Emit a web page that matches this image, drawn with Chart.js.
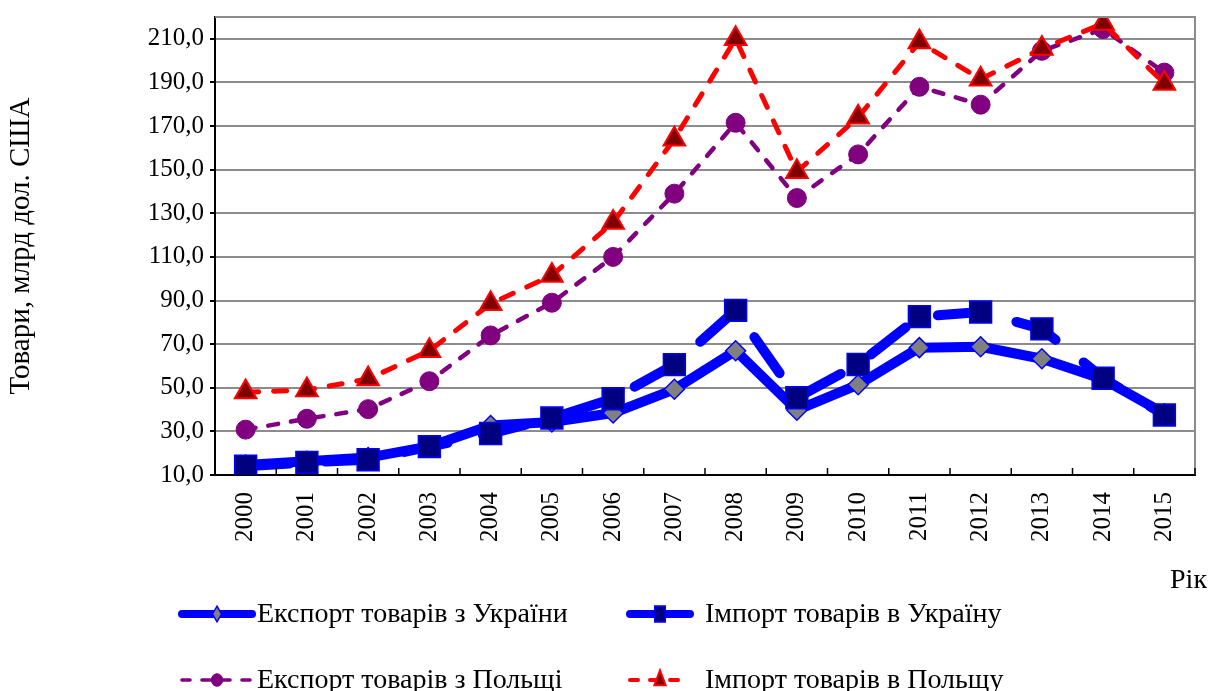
<!DOCTYPE html>
<html>
<head>
<meta charset="utf-8">
<script src="https://cdn.jsdelivr.net/npm/chart.js@4.4.0/dist/chart.umd.min.js"></script>
<style>
  html, body { margin: 0; padding: 0; background: #fff; }
  #wrap { width: 1212px; height: 691px; position: relative; }
</style>
</head>
<body>
<div id="wrap"><canvas id="chart"></canvas></div>
<script>
// years on the x axis
const years = ["2000", "2001", "2002", "2003", "2004", "2005", "2006", "2007",
               "2008", "2009", "2010", "2011", "2012", "2013", "2014", "2015"];

// values, bn USD
const exportUkraine = [14.6, 16.3, 18.0, 23.1, 32.7, 34.3, 38.4, 49.3, 67.0, 39.7, 51.4, 68.4, 68.8, 63.3, 53.9, 38.1];
const importUkraine = [14.0, 15.8, 17.0, 23.0, 29.0, 36.1, 45.0, 60.6, 85.5, 45.4, 60.7, 82.6, 84.7, 77.0, 54.4, 37.5];
const exportPoland  = [30.8, 35.8, 40.2, 53.0, 74.0, 89.0, 110.0, 139.0, 171.5, 137.0, 157.0, 188.0, 179.8, 204.5, 214.5, 194.5];
const importPoland  = [48.0, 49.0, 54.0, 67.0, 88.5, 101.5, 125.8, 164.0, 210.0, 149.0, 174.0, 208.5, 191.5, 205.5, 217.0, 189.5];

const yTicks = [10, 30, 50, 70, 90, 110, 130, 150, 170, 190, 210];

const serif = "'Liberation Serif', 'Times New Roman', serif";

const datasets = [
    {
        label: "Експорт товарів з України",
        data: exportUkraine,
        borderColor: "#0000ff",
        borderWidth: 10,
        borderCapStyle: "round",
        borderJoinStyle: "round",
        pointStyle: "rectRot",
        pointRadius: 10,
        pointBackgroundColor: "#808080",
        pointBorderColor: "#0000ff",
        pointBorderWidth: 1.5,
        order: 3
    },
    {
        label: "Імпорт товарів в Україну",
        data: importUkraine,
        borderColor: "#0000ff",
        borderWidth: 10,
        borderDash: [44, 36],
        borderCapStyle: "round",
        borderJoinStyle: "round",
        pointStyle: "rect",
        pointRadius: 15.5,
        pointBackgroundColor: "#000080",
        pointBorderColor: "#0000ff",
        pointBorderWidth: 1.5,
        order: 2
    },
    {
        label: "Експорт товарів з Польщі",
        data: exportPoland,
        borderColor: "#800080",
        borderWidth: 4.5,
        borderDash: [10, 13],
        borderCapStyle: "round",
        pointStyle: "circle",
        pointRadius: 9.5,
        pointBackgroundColor: "#800080",
        pointBorderColor: "#800080",
        pointBorderWidth: 1,
        order: 1
    },
    {
        label: "Імпорт товарів в Польщу",
        data: importPoland,
        borderColor: "#ff0000",
        borderWidth: 5,
        borderDash: [13, 15],
        borderCapStyle: "round",
        pointStyle: "triangle",
        pointRadius: 12.5,
        pointBackgroundColor: "#800000",
        pointBorderColor: "#ff0000",
        pointBorderWidth: 2,
        order: 0
    }
];

// small helper for legend markers
const drawMarker = (ctx, ds, x, y, scale) => {
    const r = ds.pointRadius * scale;
    ctx.save();
    ctx.setLineDash([]);
    ctx.fillStyle = ds.pointBackgroundColor;
    ctx.strokeStyle = ds.pointBorderColor;
    ctx.lineWidth = ds.pointBorderWidth;
    ctx.beginPath();
    if (ds.pointStyle === "rectRot") {
        ctx.moveTo(x, y - r * 1.3);
        ctx.lineTo(x + r * 0.75, y);
        ctx.lineTo(x, y + r * 1.3);
        ctx.lineTo(x - r * 0.75, y);
        ctx.closePath();
    } else if (ds.pointStyle === "rect") {
        const s = r * 0.707;
        ctx.rect(x - s * 0.8, y - s * 1.2, s * 1.6, s * 2.4);
    } else if (ds.pointStyle === "circle") {
        ctx.ellipse(x, y, r, r * 1.1, 0, 0, Math.PI * 2);
    } else {
        ctx.moveTo(x, y - r * 1.3);
        ctx.lineTo(x + r * 0.75, y + r * 0.7);
        ctx.lineTo(x - r * 0.75, y + r * 0.7);
        ctx.closePath();
    }
    ctx.fill();
    ctx.stroke();
    ctx.restore();
};

const extrasPlugin = {
    id: "extras",
    afterDraw(chart) {
        const ctx = chart.ctx;
        const area = chart.chartArea;
        const xs = chart.scales.x;

        ctx.save();
        // grey frame on top and right
        ctx.strokeStyle = "#8c8c8c";
        ctx.lineWidth = 2;
        ctx.beginPath();
        ctx.moveTo(area.left, area.top);
        ctx.lineTo(area.right, area.top);
        ctx.lineTo(area.right, area.bottom);
        ctx.stroke();

        // inward tick marks between categories
        ctx.strokeStyle = "#000";
        ctx.lineWidth = 1.5;
        for (let i = 1; i <= years.length; i++) {
            const x = i < years.length
                ? (xs.getPixelForTick(i - 1) + xs.getPixelForTick(i)) / 2
                : area.right;
            ctx.beginPath();
            ctx.moveTo(x, area.bottom);
            ctx.lineTo(x, area.bottom - 7);
            ctx.stroke();
        }

        // axis name on the right
        ctx.fillStyle = "#000";
        ctx.font = "28px " + serif;
        ctx.textAlign = "right";
        ctx.textBaseline = "middle";
        ctx.fillText("Рік", 1207, 581);

        // legend in two rows
        const slots = [
            { x1: 182, x2: 252, tx: 257, y: 614 },
            { x1: 630, x2: 690, tx: 705, y: 614 },
            { x1: 182, x2: 252, tx: 257, y: 680 },
            { x1: 630, x2: 690, tx: 705, y: 680 }
        ];
        chart.data.datasets.forEach((ds, i) => {
            const s = slots[i];
            ctx.save();
            ctx.strokeStyle = ds.borderColor;
            ctx.lineWidth = ds.borderWidth * 0.8;
            ctx.lineCap = "round";
            if (i === 1) ctx.setLineDash([]);
            else if (ds.borderDash) ctx.setLineDash([8, 12]);
            ctx.beginPath();
            ctx.moveTo(s.x1, s.y);
            ctx.lineTo(s.x2, s.y);
            ctx.stroke();
            ctx.restore();
            drawMarker(ctx, ds, (s.x1 + s.x2) / 2, s.y, 0.6);
            ctx.fillStyle = "#000";
            ctx.font = "28px " + serif;
            ctx.textAlign = "left";
            ctx.textBaseline = "middle";
            ctx.fillText(ds.label, s.tx, s.y + 1);
        });
        ctx.restore();
    }
};

new Chart(document.getElementById("chart"), {
    type: "line",
    data: { labels: years, datasets: datasets },
    options: {
        responsive: true,
        maintainAspectRatio: false,
        animation: false,
        layout: { padding: { top: 15, right: 15, left: 0, bottom: 0 } },
        plugins: {
            legend: { display: false },
            tooltip: { enabled: false }
        },
        scales: {
            x: {
                offset: true,
                grid: { display: false, drawTicks: false },
                border: { display: true, color: "#000", width: 2 },
                ticks: {
                    autoSkip: false,
                    minRotation: 90,
                    maxRotation: 90,
                    padding: 17,
                    color: "#000",
                    font: { family: serif, size: 25 }
                },
                afterFit: (scale) => {
                    scale.height = 216;
                    scale.paddingLeft = 0;
                    scale.paddingRight = 0;
                }
            },
            y: {
                min: 10,
                max: 220,
                afterBuildTicks: (scale) => {
                    scale.ticks = yTicks.map(v => ({ value: v }));
                },
                grid: {
                    color: "#8c8c8c",
                    lineWidth: 2,
                    drawTicks: true,
                    tickLength: 5,
                    tickColor: "#000"
                },
                border: { display: true, color: "#000", width: 2 },
                ticks: {
                    padding: 6,
                    color: "#000",
                    font: { family: serif, size: 25 },
                    callback: (v) => v.toFixed(1).replace(".", ",")
                },
                title: {
                    display: true,
                    text: "Товари, млрд дол. США",
                    color: "#000",
                    font: { family: serif, size: 29 },
                    padding: { top: 4, bottom: 0 }
                },
                afterFit: (scale) => {
                    scale.width = 215;
                    scale.paddingTop = 0;
                    scale.paddingBottom = 0;
                }
            }
        }
    },
    plugins: [extrasPlugin]
});
</script>
</body>
</html>
